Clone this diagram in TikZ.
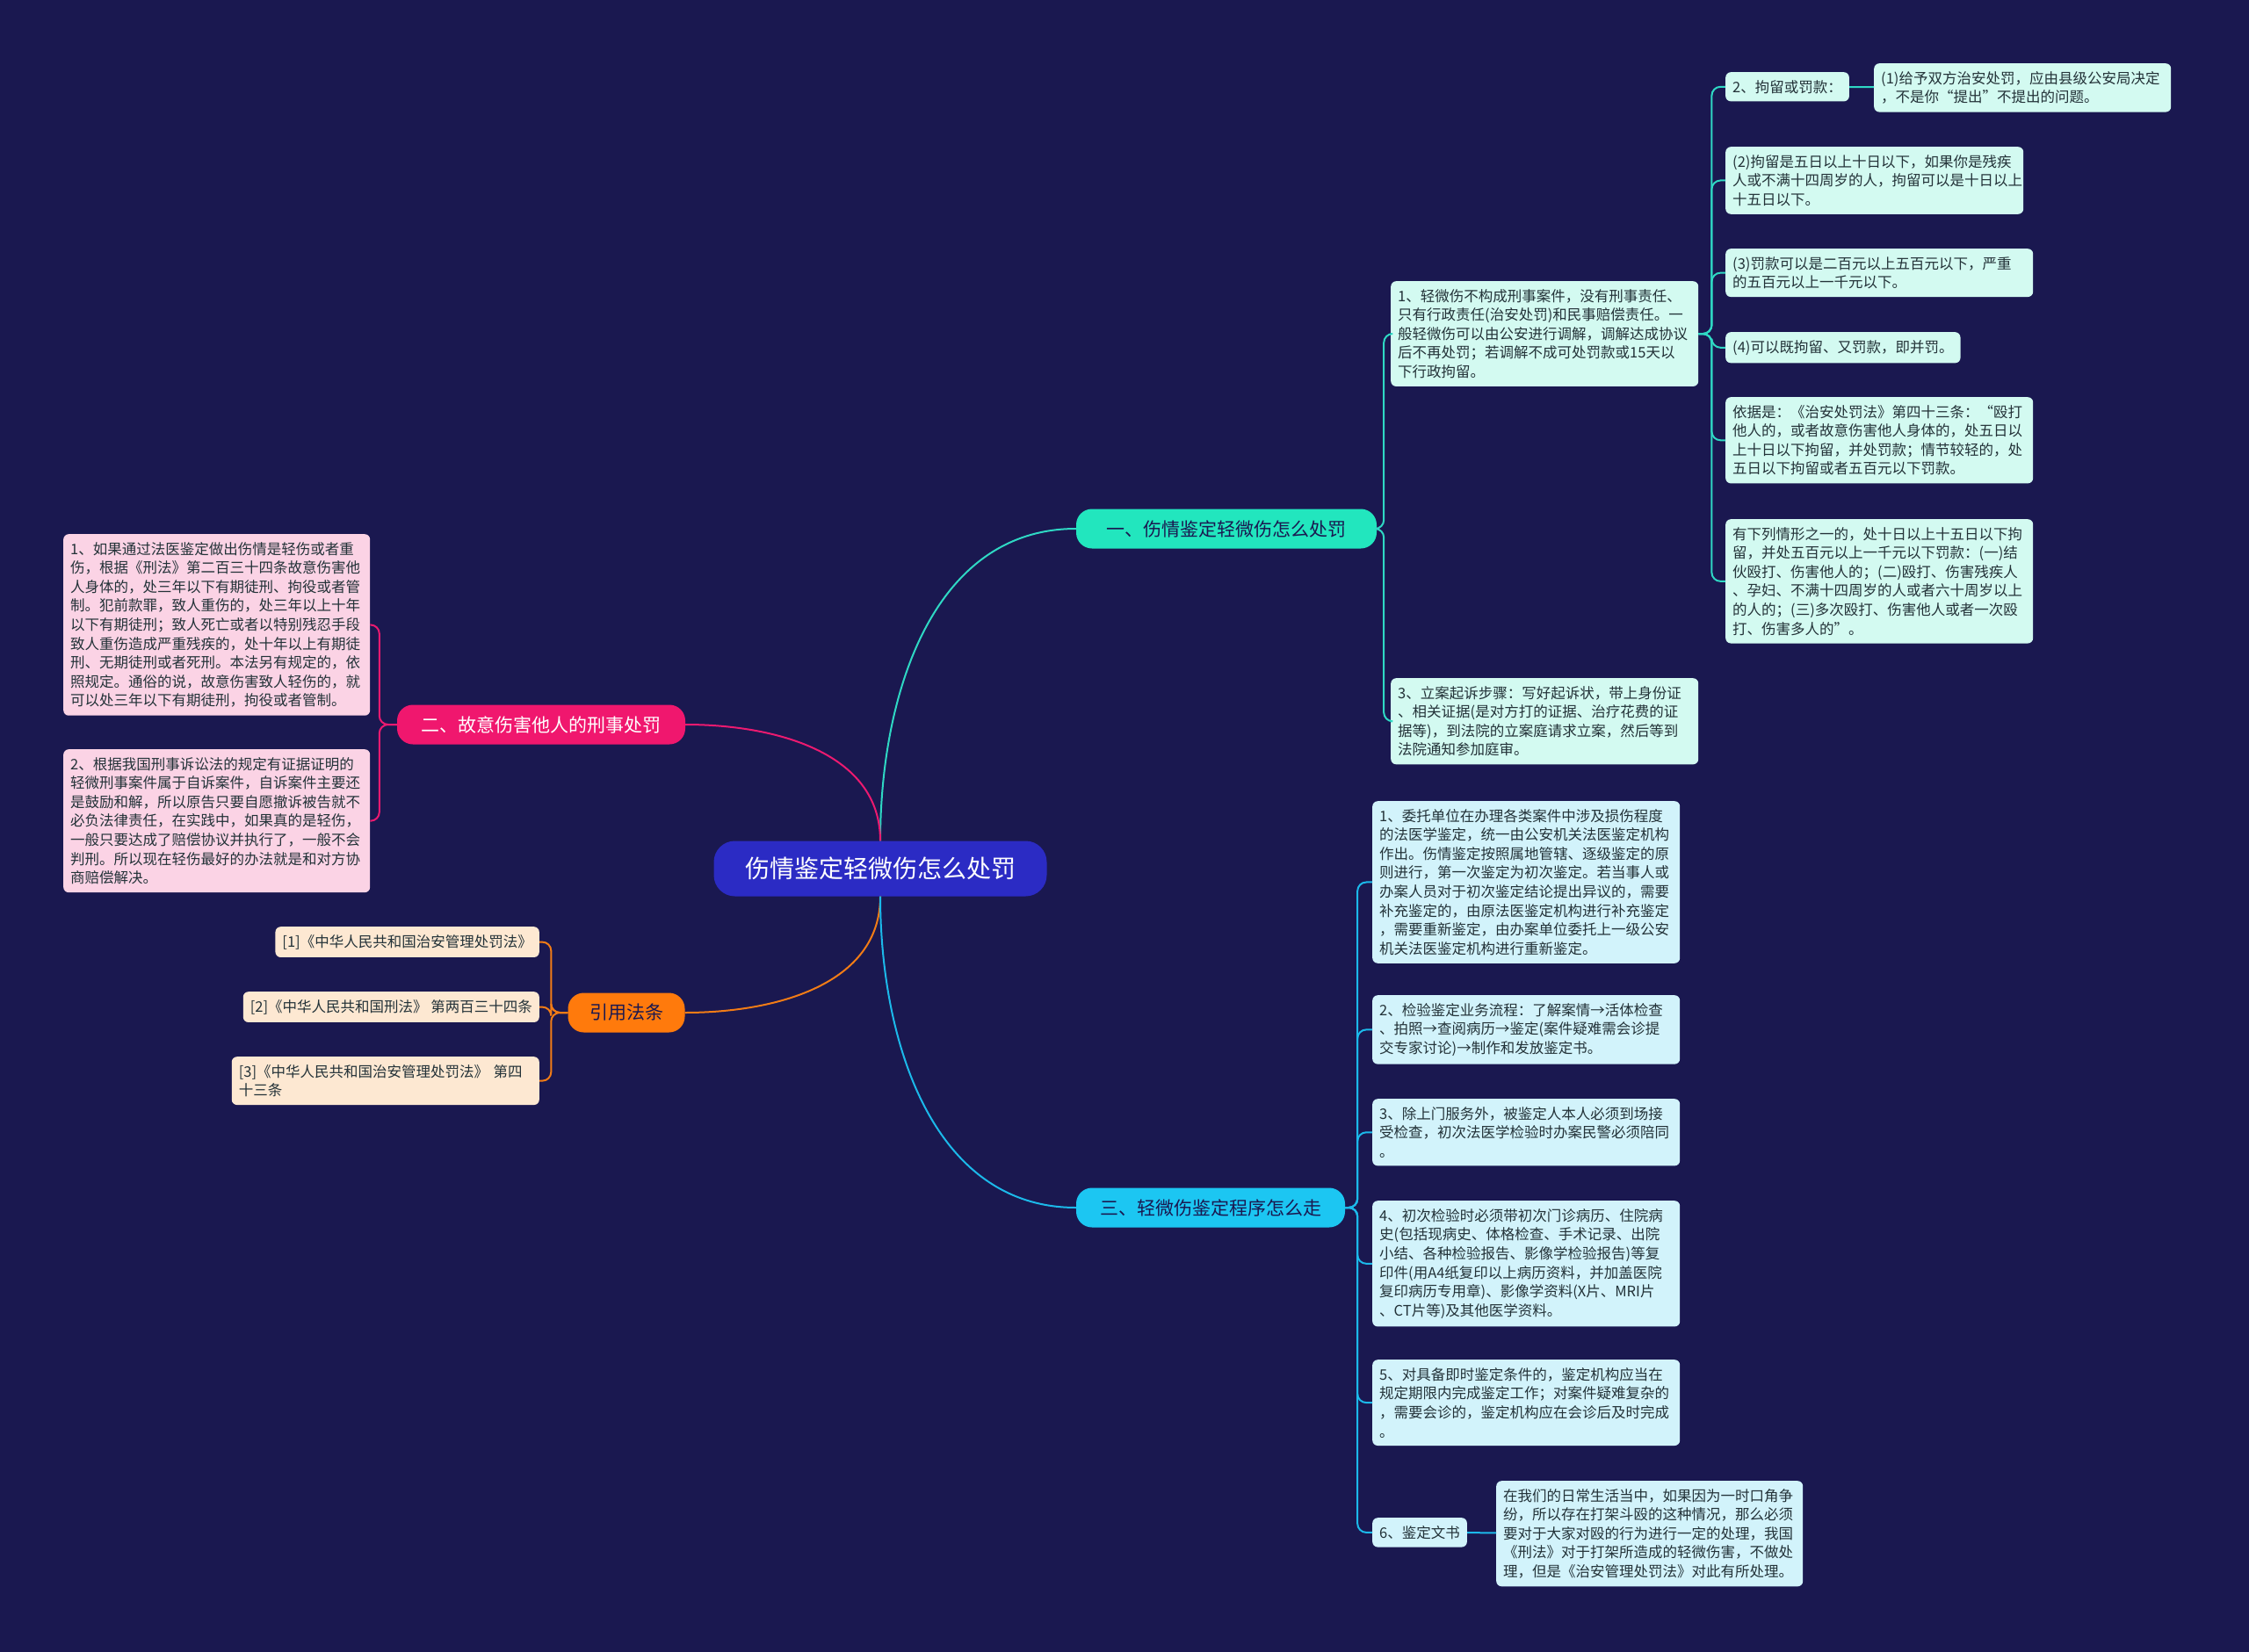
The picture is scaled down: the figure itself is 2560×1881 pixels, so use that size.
\documentclass[tikz,border=0pt]{standalone}
\usepackage{fontspec}
\usepackage{xcolor}
\usepackage{tikz}
\newfontfamily\cjk{Noto Sans CJK SC}
\definecolor{bgNavy}{HTML}{1A1850}
\definecolor{rootBlue}{HTML}{2B2BC4}
\definecolor{mintFill}{HTML}{D3FAF1}
\definecolor{mintLine}{HTML}{2FD8C4}
\definecolor{mintHead}{HTML}{22E6BE}
\definecolor{skyFill}{HTML}{D2F3FB}
\definecolor{skyLine}{HTML}{1CB9EA}
\definecolor{skyHead}{HTML}{1CC6F2}
\definecolor{roseFill}{HTML}{FBD3E5}
\definecolor{roseLine}{HTML}{EC1A70}
\definecolor{roseHead}{HTML}{F0176E}
\definecolor{peachFill}{HTML}{FDE8D2}
\definecolor{peachLine}{HTML}{F27C16}
\definecolor{peachHead}{HTML}{FF7A0C}
\definecolor{inkDark}{HTML}{233238}
\newcommand\leaffont{\cjk\fontsize{16.5}{21.6}\selectfont}
\tikzset{
  rootnode/.style={rectangle, rounded corners=24pt, fill=rootBlue, text=white, font=\cjk\fontsize{28}{32}\selectfont, minimum width=379pt, minimum height=63pt, inner sep=4pt},
  branchnode/.style 2 args={rectangle, rounded corners=18pt, fill=#1, text=#2, font=\cjk\fontsize{21}{25}\selectfont, minimum height=45pt, inner xsep=16pt, inner ysep=4pt},
  leafbox/.style 2 args={rectangle, rounded corners=6pt, fill=#1, text=inkDark, align=left, font=\leaffont, inner xsep=8pt, inner ysep=9pt, text width=#2},
  shortbox/.style={rectangle, rounded corners=6pt, fill=#1, text=inkDark, font=\leaffont, inner xsep=8pt, inner ysep=9pt},
  linkline/.style={line width=2pt, draw=#1, rounded corners=10pt},
}
\begin{document}
\begin{tikzpicture}[x=1pt,y=-1pt]
  \fill[bgNavy] (0,0) rectangle (2560,1881);
  \useasboundingbox (0,0) rectangle (2560,1881);

  % Root
  \node[rootnode] (root) at (1002,989) {伤情鉴定轻微伤怎么处罚};

  % Main branches
  \node[branchnode={mintHead}{bgNavy}, minimum width=342pt] (b1) at (1396,602) {一、伤情鉴定轻微伤怎么处罚};
  \node[branchnode={roseHead}{white}, minimum width=328pt] (b2) at (616,825) {二、故意伤害他人的刑事处罚};
  \node[branchnode={peachHead}{bgNavy}, minimum width=133pt] (b3) at (713,1153) {引用法条};
  \node[branchnode={skyHead}{bgNavy}, minimum width=306pt] (b4) at (1378,1375) {三、轻微伤鉴定程序怎么走};

  % Branch one: details
  \node[leafbox={mintFill}{334pt}, anchor=north west] (a1) at (1583,320) {1、轻微伤不构成刑事案件，没有刑事责任、\\只有行政责任(治安处罚)和民事赔偿责任。一\\般轻微伤可以由公安进行调解，调解达成协议\\后不再处罚；若调解不成可处罚款或15天以\\下行政拘留。};
  \node[leafbox={mintFill}{334pt}, anchor=north west] (a2) at (1583,772) {3、立案起诉步骤：写好起诉状，带上身份证\\、相关证据(是对方打的证据、治疗花费的证\\据等)，到法院的立案庭请求立案，然后等到\\法院通知参加庭审。};

  \node[shortbox=mintFill, anchor=north west] (g1) at (1964,82) {2、拘留或罚款：};
  \node[leafbox={mintFill}{322pt}, anchor=north west] (g1x) at (2133,72) {(1)给予双方治安处罚，应由县级公安局决定\\，不是你“提出”不提出的问题。};
  \node[leafbox={mintFill}{323pt}, anchor=north west] (g2) at (1964,167) {(2)拘留是五日以上十日以下，如果你是残疾\\人或不满十四周岁的人，拘留可以是十日以上\\十五日以下。};
  \node[leafbox={mintFill}{334pt}, anchor=north west] (g3) at (1964,283) {(3)罚款可以是二百元以上五百元以下，严重\\的五百元以上一千元以下。};
  \node[shortbox=mintFill, anchor=north west] (g4) at (1964,378) {(4)可以既拘留、又罚款，即并罚。};
  \node[leafbox={mintFill}{334pt}, anchor=north west] (g5) at (1964,452) {依据是：《治安处罚法》第四十三条：“殴打\\他人的，或者故意伤害他人身体的，处五日以\\上十日以下拘留，并处罚款；情节较轻的，处\\五日以下拘留或者五百元以下罚款。};
  \node[leafbox={mintFill}{334pt}, anchor=north west] (g6) at (1964,591) {有下列情形之一的，处十日以上十五日以下拘\\留，并处五百元以上一千元以下罚款：(一)结\\伙殴打、伤害他人的；(二)殴打、伤害残疾人\\、孕妇、不满十四周岁的人或者六十周岁以上\\的人的；(三)多次殴打、伤害他人或者一次殴\\打、伤害多人的”。};

  % Branch two: criminal penalty
  \node[leafbox={roseFill}{333pt}, anchor=north west] (p1) at (72,608) {1、如果通过法医鉴定做出伤情是轻伤或者重\\伤，根据《刑法》第二百三十四条故意伤害他\\人身体的，处三年以下有期徒刑、拘役或者管\\制。犯前款罪，致人重伤的，处三年以上十年\\以下有期徒刑；致人死亡或者以特别残忍手段\\致人重伤造成严重残疾的，处十年以上有期徒\\刑、无期徒刑或者死刑。本法另有规定的，依\\照规定。通俗的说，故意伤害致人轻伤的，就\\可以处三年以下有期徒刑，拘役或者管制。};
  \node[leafbox={roseFill}{333pt}, anchor=north west] (p2) at (72,853) {2、根据我国刑事诉讼法的规定有证据证明的\\轻微刑事案件属于自诉案件，自诉案件主要还\\是鼓励和解，所以原告只要自愿撤诉被告就不\\必负法律责任，在实践中，如果真的是轻伤，\\一般只要达成了赔偿协议并执行了，一般不会\\判刑。所以现在轻伤最好的办法就是和对方协\\商赔偿解决。};

  % Branch three: cited laws
  \node[shortbox=peachFill, anchor=north east] (r1) at (614,1055) {[1]《中华人民共和国治安管理处罚法》};
  \node[shortbox=peachFill, anchor=north east] (r2) at (614,1129) {[2]《中华人民共和国刑法》 第两百三十四条};
  \node[leafbox={peachFill}{334pt}, anchor=north east] (r3) at (614,1203) {[3]《中华人民共和国治安管理处罚法》 第四\\十三条};

  % Branch four: procedure
  \node[leafbox={skyFill}{334pt}, anchor=north west] (c1) at (1562,912) {1、委托单位在办理各类案件中涉及损伤程度\\的法医学鉴定，统一由公安机关法医鉴定机构\\作出。伤情鉴定按照属地管辖、逐级鉴定的原\\则进行，第一次鉴定为初次鉴定。若当事人或\\办案人员对于初次鉴定结论提出异议的，需要\\补充鉴定的，由原法医鉴定机构进行补充鉴定\\，需要重新鉴定，由办案单位委托上一级公安\\机关法医鉴定机构进行重新鉴定。};
  \node[leafbox={skyFill}{334pt}, anchor=north west] (c2) at (1562,1133) {2、检验鉴定业务流程：了解案情→活体检查\\、拍照→查阅病历→鉴定(案件疑难需会诊提\\交专家讨论)→制作和发放鉴定书。};
  \node[leafbox={skyFill}{334pt}, anchor=north west] (c3) at (1562,1251) {3、除上门服务外，被鉴定人本人必须到场接\\受检查，初次法医学检验时办案民警必须陪同\\。};
  \node[leafbox={skyFill}{334pt}, anchor=north west] (c4) at (1562,1367) {4、初次检验时必须带初次门诊病历、住院病\\史(包括现病史、体格检查、手术记录、出院\\小结、各种检验报告、影像学检验报告)等复\\印件(用A4纸复印以上病历资料，并加盖医院\\复印病历专用章)、影像学资料(X片、MRI片\\、CT片等)及其他医学资料。};
  \node[leafbox={skyFill}{334pt}, anchor=north west] (c5) at (1562,1548) {5、对具备即时鉴定条件的，鉴定机构应当在\\规定期限内完成鉴定工作；对案件疑难复杂的\\，需要会诊的，鉴定机构应在会诊后及时完成\\。};
  \node[shortbox=skyFill, anchor=north west] (c6) at (1562,1728) {6、鉴定文书};
  \node[leafbox={skyFill}{333pt}, anchor=north west] (c6x) at (1703,1686) {在我们的日常生活当中，如果因为一时口角争\\纷，所以存在打架斗殴的这种情况，那么必须\\要对于大家对殴的行为进行一定的处理，我国\\《刑法》对于打架所造成的轻微伤害，不做处\\理，但是《治安管理处罚法》对此有所处理。};

  % Root to branches
  \draw[linkline=mintLine] (root.north) to[out=90, in=180] (b1.west);
  \draw[linkline=roseLine] (root.north) to[out=90, in=0] (b2.east);
  \draw[linkline=peachLine] (root.south) to[out=-90, in=0] (b3.east);
  \draw[linkline=skyLine] (root.south) to[out=-90, in=180] (b4.west);

  % Branches to leaves
  \foreach \n in {a1,a2}
    \draw[linkline=mintLine] (b1.east) -- ++(8,0) |- (\n.west);
  \foreach \n in {g1,g2,g3,g4,g5,g6}
    \draw[linkline=mintLine] (a1.east) -- ++(15,0) |- (\n.west);
  \draw[linkline=mintLine] (g1) -- (g1x);
  \foreach \n in {p1,p2}
    \draw[linkline=roseLine] (b2.west) -- ++(-20,0) |- (\n.east);
  \foreach \n in {r1,r2,r3}
    \draw[linkline=peachLine] (b3.west) -- ++(-19,0) |- (\n.east);
  \foreach \n in {c1,c2,c3,c4,c5,c6}
    \draw[linkline=skyLine] (b4.east) -- ++(14,0) |- (\n.west);
  \draw[linkline=skyLine] (c6) -- (c6x);
\end{tikzpicture}
\end{document}
